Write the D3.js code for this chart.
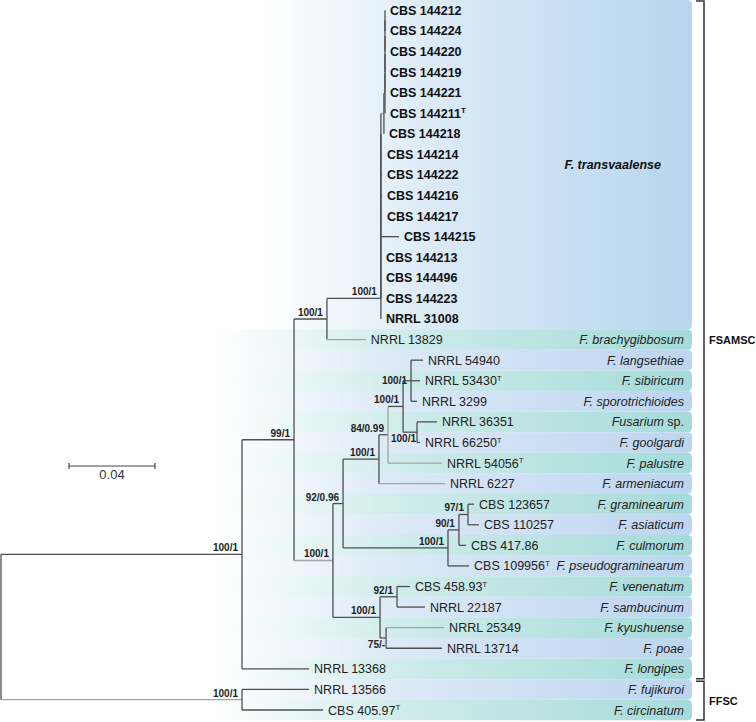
<!DOCTYPE html>
<html><head><meta charset="utf-8">
<script src="https://cdn.jsdelivr.net/npm/d3@7"></script>
<style>body{margin:0;background:#fff} svg{display:block;font-family:"Liberation Sans",Arial,sans-serif}</style>
</head><body><svg id="c" width="756" height="722"></svg>
<script>
// [node, parent, branch length]
const branches = [
 ["root", null, 0],
 ["A","root",0.1121],
 ["B","A",0.0242],
 ["C","B",0.0153],
 ["D","C",0.0251],
 ["A1","D",0],["A2","A1",0],["A3","A2",0],["A4","A3",0],["A5","A4",0],["A6","A5",0],["A7","A6",0],["A8","A7",0],
 ["S","A8",0.0014],["S1","S",0.0005],["S2","S1",0],["S3","S2",0],["S4","S3",0],["S5","S4",0],
 ["CBS 144212","S5",0],["CBS 144224","S5",0],["CBS 144220","S4",0],["CBS 144219","S3",0],
 ["CBS 144221","S2",0],["CBS 144211","S1",0],["CBS 144218","S",0],
 ["CBS 144214","A8",0.0005],["CBS 144222","A7",0.0005],["CBS 144216","A6",0.0005],["CBS 144217","A5",0.0005],
 ["CBS 144215","A4",0.0084],["CBS 144213","A3",0],["CBS 144496","A2",0],["CBS 144223","A1",0],
 ["NRRL 31008","D",0],
 ["NRRL 13829","C",0.0181],
 ["E","B",0.0181],
 ["F","E",0.0047],
 ["H","F",0.0167],
 ["J","H",0.0042],
 ["K","J",0.0070],
 ["L","K",0.0037],
 ["NRRL 54940","L",0.0056],["NRRL 53430","L",0.0042],["NRRL 3299","L",0.0028],
 ["M","K",0.0065],
 ["NRRL 36351","M",0.0093],["NRRL 66250","M",0.0014],
 ["NRRL 54056","J",0.0251],
 ["NRRL 6227","H",0.0307],
 ["I","F",0.0488],
 ["N","I",0.0051],
 ["O","N",0.0042],
 ["CBS 123657","O",0.0028],["CBS 110257","O",0.0051],
 ["CBS 417.86","N",0.0033],
 ["CBS 109956","I",0.0098],
 ["G","E",0.0219],
 ["P","G",0.0079],
 ["CBS 458.93","P",0.0060],["NRRL 22187","P",0.0130],
 ["Q","G",0.0028],
 ["NRRL 25349","Q",0.0270],["NRRL 13714","Q",0.0260],
 ["NRRL 13368","A",0.0312],
 ["FFSC","root",0.1121],
 ["NRRL 13566","FFSC",0.0312],["CBS 405.97","FFSC",0.0377]
];
const supports = [
 ["A","100/1"],["B","99/1"],["C","100/1"],["D","100/1"],["E","100/1"],["F","92/0.96"],
 ["H","100/1"],["J","84/0.99"],["K","100/1"],["L","100/1"],["M","100/1"],["I","100/1"],
 ["N","90/1"],["O","97/1"],["G","100/1"],["P","92/1"],["Q","75/-"],["FFSC","100/1"]
];
const supportBelow = ["M","Q"];
const supportMid = ["L"];
const typeStrains = ["CBS 144211","NRRL 53430","NRRL 66250","NRRL 54056","CBS 109956","CBS 458.93","CBS 405.97"];
const speciesNames = [
 ["NRRL 13829","F. brachygibbosum"],["NRRL 54940","F. langsethiae"],["NRRL 53430","F. sibiricum"],
 ["NRRL 3299","F. sporotrichioides"],["NRRL 36351","Fusarium|sp."],["NRRL 66250","F. goolgardi"],
 ["NRRL 54056","F. palustre"],["NRRL 6227","F. armeniacum"],["CBS 123657","F. graminearum"],
 ["CBS 110257","F. asiaticum"],["CBS 417.86","F. culmorum"],["CBS 109956","F. pseudograminearum"],
 ["CBS 458.93","F. venenatum"],["NRRL 22187","F. sambucinum"],["NRRL 25349","F. kyushuense"],
 ["NRRL 13714","F. poae"],["NRRL 13368","F. longipes"],["NRRL 13566","F. fujikuroi"],["CBS 405.97","F. circinatum"]
];
const cladeLabel = "F. transvaalense";
const complexes = [["FSAMSC","CBS 144212","NRRL 13368"],["FFSC","NRRL 13566","CBS 405.97"]];
const scaleBarValue = 0.04;
const lightBranches = ["FFSC","NRRL 13829","NRRL 54056","NRRL 6227","NRRL 25349","E","S"];

const svg = d3.select("#c");
const root = d3.stratify().id(d=>d[0]).parentId(d=>d[1])(branches);
root.each(n=>{ n.len = n.data[2]; });
root.eachBefore(n=>{ n.dist = n.parent ? n.parent.dist + n.len : 0; });
const leaves = root.leaves();
const x = d3.scaleLinear().domain([0, 0.04]).range([1, 87]);
const y = d3.scaleLinear().domain([0, leaves.length-1]).range([10.3, 710]);
leaves.forEach((l,i)=>{ l.row=i; l.y=y(i); });
root.eachAfter(n=>{ if(n.children){ n.y=(n.children[0].y+n.children[n.children.length-1].y)/2; } n.x=x(n.dist); });

const rowH = y(1)-y(0);
const bandL = 215, bandR = 692, r = 5;
const defs = svg.append("defs");
function grad(id,col,x1,mid){
  const g = defs.append("linearGradient").attr("id",id).attr("gradientUnits","userSpaceOnUse")
   .attr("x1",x1).attr("x2",bandR).attr("y1",0).attr("y2",0);
  g.append("stop").attr("offset",0).attr("stop-color",col).attr("stop-opacity",0);
  g.append("stop").attr("offset",0.4).attr("stop-color",col).attr("stop-opacity",mid);
  g.append("stop").attr("offset",1).attr("stop-color",col).attr("stop-opacity",1);
}
grad("gTeal","#a5dbd9",bandL,0.55); grad("gBlue","#bdd5f0",bandL,0.55); grad("gTrans","#b7d5ee",265,0.5);
function rrect(x0,y0,x1,y1){
  return `M${x0},${y0}H${x1-r}Q${x1},${y0} ${x1},${y0+r}V${y1-r}Q${x1},${y1} ${x1-r},${y1}H${x0}Z`;
}
const byId = new Map(root.descendants().map(n=>[n.id,n]));
const Dnode = byId.get("D");
const transLeaves = Dnode.leaves();
const lastTrans = transLeaves[transLeaves.length-1];
svg.append("path").attr("d", rrect(bandL, 0, bandR, lastTrans.y+rowH/2)).attr("fill","url(#gTrans)");
speciesNames.forEach(([tip,name])=>{
  const n = byId.get(tip);
  svg.append("path").attr("d", rrect(bandL, n.y-rowH/2, bandR, n.y+rowH/2))
    .attr("fill", n.row%2===0 ? "url(#gTeal)" : "url(#gBlue)");
});

// branches
const g = svg.append("g").attr("fill","none").attr("stroke-width",1.3);
root.descendants().forEach(n=>{
  if(n.parent){
    g.append("path").attr("d",`M${n.parent.x},${n.y}H${n.x}`)
     .attr("stroke", lightBranches.includes(n.id) ? "#a3a3a3" : "#4f4f4f");
  }
  if(n.children){
    g.append("path").attr("d",`M${n.x},${n.children[0].y}V${n.children[n.children.length-1].y}`)
     .attr("stroke", n.id==="J" ? "#a3a3a3" : "#4f4f4f");
  }
});

// tip labels
leaves.forEach(l=>{
  const bold = transLeaves.includes(l);
  const t = svg.append("text").attr("x", l.x+5).attr("y", l.y).attr("dy","0.36em")
    .attr("font-size","12.5px").attr("fill", bold ? "#111" : "#222")
    .attr("font-weight", bold ? "bold" : "normal").text(l.id);
  if(typeStrains.includes(l.id)) t.append("tspan").attr("font-size","8px").attr("dy","-0.55em").text("T");
});
// support labels
supports.forEach(([id,s])=>{
  const n = byId.get(id);
  let yy = n.y-3, xx = n.x-4;
  if(supportBelow.includes(id)){ yy = n.y+10; xx = n.x-1; }
  if(supportMid.includes(id)){ yy = n.y+3.5; }
  svg.append("text").attr("x",xx).attr("y",yy).attr("text-anchor","end")
    .attr("font-size","10px").attr("font-weight","bold").attr("fill","#222").text(s);
});
// species labels
speciesNames.forEach(([tip,name])=>{
  const n = byId.get(tip);
  const t = svg.append("text").attr("x",684).attr("y",n.y).attr("dy","0.36em").attr("text-anchor","end")
    .attr("font-size","12.5px").attr("fill","#222");
  if(name.includes("|")){ const [a,b]=name.split("|"); t.append("tspan").attr("font-style","italic").text(a+" "); t.append("tspan").text(b); }
  else t.attr("font-style","italic").text(name);
});
svg.append("text").attr("x",661).attr("y",(lastTrans.y+rowH/2)/2).attr("dy","0.36em").attr("text-anchor","end")
  .attr("font-size","12.5px").attr("font-weight","bold").attr("font-style","italic").attr("fill","#111").text(cladeLabel);

// brackets
complexes.forEach(([name,a,b],i)=>{
  const y0 = i===0 ? 1 : byId.get(a).y-rowH/2+2;
  const y1 = i===0 ? byId.get(b).y+rowH/2-0.5 : 720;
  svg.append("path").attr("d",`M696,${y0}H704V${y1}H696`).attr("fill","none").attr("stroke","#333").attr("stroke-width",1.5);
  svg.append("text").attr("x",709).attr("y",(y0+y1)/2).attr("dy","0.36em").attr("font-size","11px")
    .attr("font-weight","bold").attr("fill","#111").text(name);
});

// scale bar
const sbx = 69, sby = 466, sbw = x(scaleBarValue)-x(0);
svg.append("path").attr("d",`M${sbx},${sby}H${sbx+sbw}M${sbx},${sby-3}V${sby+3}M${sbx+sbw},${sby-3}V${sby+3}`)
  .attr("stroke","#444").attr("stroke-width",1.2).attr("fill","none");
svg.append("text").attr("x",sbx+sbw/2).attr("y",sby+13).attr("text-anchor","middle").attr("font-size","13px")
  .attr("fill","#333").text(scaleBarValue);
</script></body></html>
